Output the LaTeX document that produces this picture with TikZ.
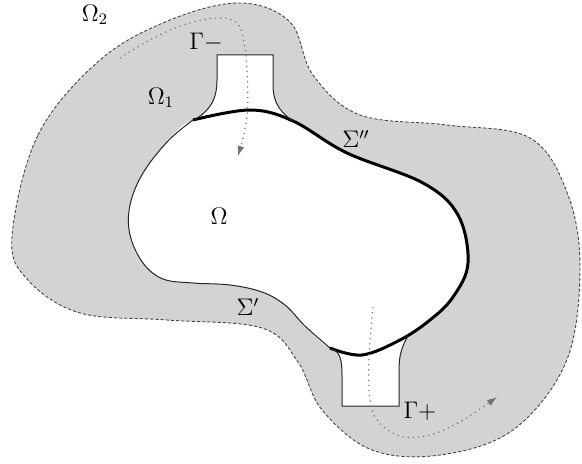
\documentclass[tikz,border=0pt]{standalone}
\usepackage{amsmath, amssymb}
\usepackage{tikz}
\usetikzlibrary{arrows.meta}
\usepackage{xcolor}
\definecolor{regiongray}{RGB}{209,211,213}
\definecolor{linegray}{RGB}{70,70,70}

\begin{document}
\begin{tikzpicture}[x=0.5pt,y=-0.5pt,
    outerbd/.style={linegray,line width=0.45pt,dash pattern=on 1.6pt off 1pt},
    thinbd/.style={black!85,line width=0.5pt},
    thickbd/.style={black,line width=1.5pt},
    flow/.style={black!55,line width=0.6pt,dotted,-{Latex[length=5pt,width=3.5pt]}},
    lbl/.style={font=\large}]
  \useasboundingbox (0,0) rectangle (582,464);
  % outer region Omega_2
  \fill[regiongray] plot[smooth cycle,tension=0.6] coordinates {(12,237) (38,135) (100,60) (170,20) (240,3) (290,22) (313,75) (360,115) (447,125) (530,138) (568,195) (580,270) (566,362) (513,430) (440,455) (372,450) (322,410) (298,362) (262,328) (167,320) (80,313) (28,280)};
  \draw[outerbd] plot[smooth cycle,tension=0.6] coordinates {(12,237) (38,135) (100,60) (170,20) (240,3) (290,22) (313,75) (360,115) (447,125) (530,138) (568,195) (580,270) (566,362) (513,430) (440,455) (372,450) (322,410) (298,362) (262,328) (167,320) (80,313) (28,280)};
  % domain Omega
  \fill[white] plot[smooth cycle,tension=0.6] coordinates {(193,120) (250,110) (293,121) (347,153) (423,183) (458,215) (468,263) (453,297) (430,320) (400,340) (362,355) (330,348) (305,326) (285,305) (262,292) (230,285) (193,283) (163,279) (143,263) (130,235) (130,205) (143,173) (168,141)};
  % channels
  \fill[white] (193,121) .. controls (205,113) and (217,105) .. (217,80) -- (217,55) -- (273,55) -- (273,85) .. controls (273,105) and (283,115) .. (295,122) -- cycle;
  \fill[white] (333,349) .. controls (340,353) and (342,360) .. (342,375) -- (342,406) -- (399,406) -- (399,370) .. controls (399,355) and (402,346) .. (408,336) -- cycle;
  % boundaries
  \draw[thinbd] plot[smooth,tension=0.6] coordinates {(330,348) (305,326) (285,305) (262,292) (230,285) (193,283) (163,279) (143,263) (130,235) (130,205) (143,173) (168,141) (193,120)};
  \draw[thickbd] plot[smooth,tension=0.6] coordinates {(193,120) (250,110) (293,121) (347,153) (423,183) (458,215) (468,263) (453,297) (430,320) (400,340) (362,355) (330,348)};
  \draw[thinbd] (193,121) .. controls (205,113) and (217,105) .. (217,80) -- (217,55) -- (273,55) -- (273,85) .. controls (273,105) and (283,115) .. (295,122);
  \draw[thinbd] (333,349) .. controls (340,353) and (342,360) .. (342,375) -- (342,406) -- (399,406) -- (399,370) .. controls (399,355) and (402,346) .. (408,336);
  % flow lines
  \draw[flow] plot[smooth,tension=0.6] coordinates {(120,58) (150,40) (183,25) (217,18) (237,23) (244,42) (247,70) (247,117) (238,156)};
  \draw[flow] plot[smooth,tension=0.6] coordinates {(373,307) (369,357) (370,400) (378,421) (400,436) (430,435) (463,420) (497,397)};
  % labels
  \node[lbl] (omtwo) at (95,15) {$\Omega_2$};
  \node[lbl] (omone) at (161,98) {$\Omega_1$};
  \node[lbl] (om) at (219,216) {$\Omega$};
  \node[lbl] (gminus) at (206,42) {$\Gamma{-}$};
  \node[lbl] (gplus) at (420,411) {$\Gamma{+}$};
  \node[lbl] (sigtwo) at (356,139) {$\Sigma''$};
  \node[lbl] (sigone) at (248,307) {$\Sigma'$};
\end{tikzpicture}
\end{document}
